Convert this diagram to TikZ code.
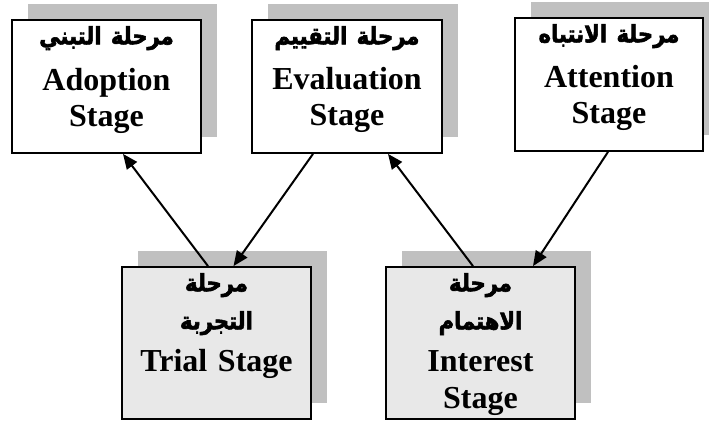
\documentclass[tikz,border=0pt]{standalone}
\usepackage{fontspec}
\usepackage{graphicx}
\setmainfont{Liberation Serif}
\newfontfamily\arabicfont[Script=Arabic,FakeBold=2.5]{DejaVu Sans}
\TeXXeTstate=1
\usetikzlibrary{arrows.meta,shadows}
\definecolor{shadowgray}{HTML}{C0C0C0}
\definecolor{lowfill}{HTML}{E8E8E8}
\newcommand{\ar}[1]{\scalebox{0.88}[1]{\arabicfont\fontsize{24}{36.5}\selectfont\beginR #1\endR}}
\newcommand{\topstrut}{\rule{0pt}{25pt}}
\tikzset{
  stagebox/.style={draw=black, line width=1.8pt, fill=white, inner sep=0pt,
    general shadow={fill=shadowgray, shadow xshift=16pt, shadow yshift=16pt}},
  lowbox/.style={stagebox, fill=lowfill},
  topsize/.style={minimum width=189pt, minimum height=133pt},
  lowsize/.style={minimum width=189pt, minimum height=152pt},
  stagetext/.style={anchor=north, inner sep=0pt, align=center, text width=185pt,
    font=\bfseries\fontsize{32}{36.5}\selectfont},
  arr/.style={line width=2pt, -{Triangle[length=15pt,width=12.5pt]}}
}
\begin{document}
\begin{tikzpicture}[x=1pt,y=-1pt]
\useasboundingbox (0,0) rectangle (709,422);
\node[stagebox, topsize] (adopt) at (106.5,86.5) {};
\node[stagebox, topsize, minimum width=190pt] (eval) at (347,86.5) {};
\node[stagebox, topsize, minimum width=188pt] (attn) at (609,84.5) {};
\node[lowbox, lowsize] (trial) at (216.5,343) {};
\node[lowbox, lowsize] (inter) at (480.5,343) {};

\node[stagetext] (adoptT) at (adopt.north) {\topstrut\ar{مرحلة التبني}\\[9.5pt]Adoption\\Stage};
\node[stagetext] (evalT) at (eval.north) {\topstrut\ar{مرحلة التقييم}\\[8.5pt]Evaluation\\Stage};
\node[stagetext] (attnT) at (attn.north) {\topstrut\ar{مرحلة الانتباه}\\[8.5pt]Attention\\Stage};
\node[stagetext] (trialT) at (trial.north) {\topstrut\ar{مرحلة}\\[1.5pt]\ar{التجربة}\\[5.5pt]Trial Stage};
\node[stagetext] (interT) at (inter.north) {\topstrut\ar{مرحلة}\\[1.5pt]\ar{الاهتمام}\\[6pt]Interest\\Stage};

\draw[arr] ([xshift=-8.5pt]trial.north) -- ([xshift=16.5pt]adopt.south);
\draw[arr] ([xshift=-34pt]eval.south) -- ([xshift=17pt]trial.north);
\draw[arr] ([xshift=-7.5pt]inter.north) -- ([xshift=41pt]eval.south);
\draw[arr] ([xshift=-1pt]attn.south) -- ([xshift=52.5pt]inter.north);
\end{tikzpicture}
\end{document}
